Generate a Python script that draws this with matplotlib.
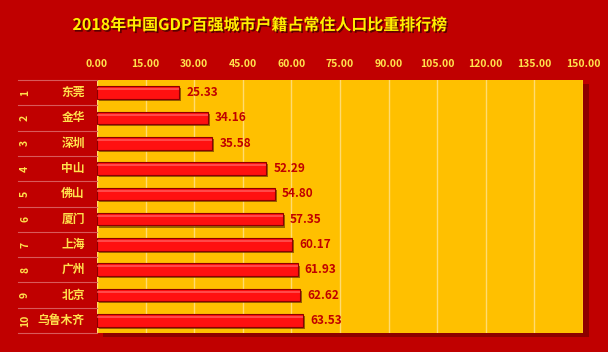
import matplotlib.pyplot as plt
import matplotlib.patheffects as pe
from matplotlib.transforms import blended_transform_factory

plt.rcParams['font.family'] = ['Noto Sans CJK SC', 'DejaVu Sans']

# Données
VILLES = ["东莞", "金华", "深圳", "中山", "佛山", "厦门", "上海", "广州", "北京", "乌鲁木齐"]
RANGS = ["1", "2", "3", "4", "5", "6", "7", "8", "9", "10"]
VALEURS = [25.33, 34.16, 35.58, 52.29, 54.80, 57.35, 60.17, 61.93, 62.62, 63.53]
TICKS = [0, 15, 30, 45, 60, 75, 90, 105, 120, 135, 150]

ROUGE_FOND = "#C00000"
JAUNE = "#FFC000"
JAUNE_TEXTE = "#FFE14D"

fig = plt.figure(figsize=(6.08, 3.52), dpi=100, facecolor=ROUGE_FOND)
ax = fig.add_axes([0.1595, 0.054, 0.7993, 0.7187])
ax.set_facecolor(JAUNE)
ax.patch.set_path_effects([pe.SimplePatchShadow(offset=(4, -3), shadow_rgbFace="#6a0000", alpha=0.6),
                           pe.Normal()])

y = list(range(len(VILLES)))
bars = ax.barh(y, VALEURS, height=0.5, color="#FF1010", edgecolor="#8B0000",
               linewidth=0.8, zorder=3)
for b in bars:
    b.set_path_effects([pe.SimplePatchShadow(offset=(1.5, -1.5), shadow_rgbFace="#6b3a00", alpha=0.7),
                        pe.Normal()])
# reflet clair en haut de chaque barre
ax.barh([v - 0.13 for v in y], VALEURS, height=0.08, color="#FF7070", linewidth=0,
        zorder=4, alpha=0.6)

for yi, v in zip(y, VALEURS):
    ax.text(v + 2.2, yi, f"{v:.2f}", va="center", ha="left", fontsize=8.5,
            fontweight="bold", color="#C00000", zorder=5)

ax.set_xlim(0, 150)
ax.set_ylim(len(VILLES) - 0.5, -0.5)
ax.set_xticks(TICKS)
ax.set_xticklabels([f"{t:.2f}" for t in TICKS])
ax.xaxis.tick_top()
ax.tick_params(axis="x", length=0, pad=8, labelsize=7.5, labelcolor=JAUNE_TEXTE)
for lab in ax.get_xticklabels():
    lab.set_fontweight("bold")
ax.set_yticks([])
ax.grid(axis="x", color="#FFDB70", linewidth=1, zorder=0)
ax.set_axisbelow(True)
for s in ax.spines.values():
    s.set_visible(False)

# Colonne de gauche : rang et ville
trans = blended_transform_factory(ax.transAxes, ax.transData)
for yi, (r, ville) in enumerate(zip(RANGS, VILLES)):
    ax.text(-0.148, yi, r, rotation=90, ha="center", va="center", fontsize=7.5,
            fontweight="bold", color=JAUNE_TEXTE, transform=trans)
    ax.text(-0.025, yi, ville, ha="right", va="center", fontsize=8.5,
            fontweight="bold", color=JAUNE_TEXTE, transform=trans)
for yl in [i - 0.5 for i in range(len(VILLES) + 1)]:
    ax.plot([-0.163, 0], [yl, yl], color="#D85A5A", linewidth=0.8,
            transform=trans, clip_on=False)

fig.text(0.428, 0.929, "2018年中国GDP百强城市户籍占常住人口比重排行榜", ha="center",
         va="center", fontsize=11.5, fontweight="bold", color="#FFF000",
         path_effects=[pe.withSimplePatchShadow(offset=(1.2, -1.2), shadow_rgbFace="#300000", alpha=0.7)])

plt.savefig("out.png", dpi=100, facecolor=ROUGE_FOND)
